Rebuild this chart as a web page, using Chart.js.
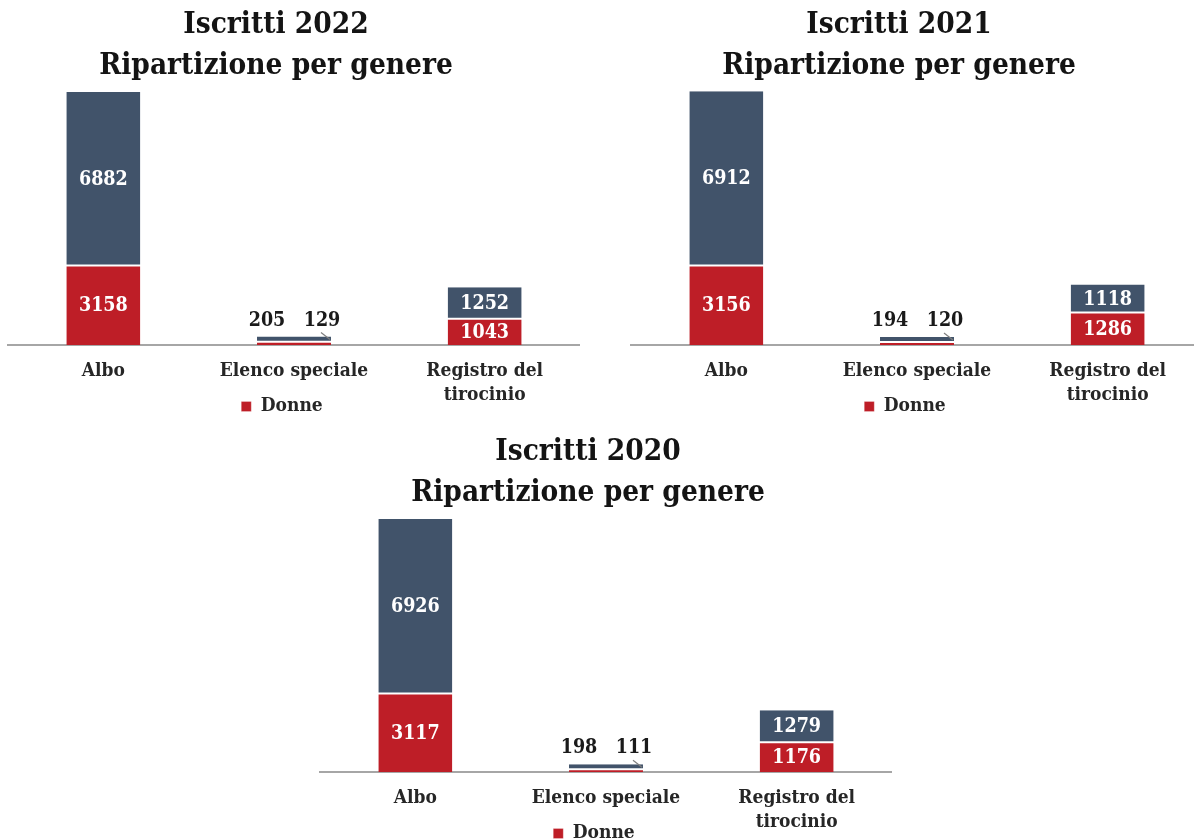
<!DOCTYPE html>
<html lang="it">
<head>
<meta charset="utf-8">
<title>Iscritti - Ripartizione per genere</title>
<script src="https://cdn.jsdelivr.net/npm/chart.js@4.4.1/dist/chart.umd.min.js"></script>
<style>
  html, body { margin: 0; padding: 0; background: #fff; }
  body { width: 1194px; height: 840px; overflow: hidden; position: relative; }
  .box { position: absolute; width: 608px; height: 444px; }
</style>
</head>
<body>
<div class="box" style="left:-28px; top:0px;"><canvas id="chart2022" width="608" height="444"></canvas></div>
<div class="box" style="left:595px; top:0px;"><canvas id="chart2021" width="608" height="444"></canvas></div>
<div class="box" style="left:284px; top:427px;"><canvas id="chart2020" width="608" height="444"></canvas></div>
<script>
// Iscritti per genere, tre anni
const categories = ['Albo', 'Elenco speciale', ['Registro del', 'tirocinio']];
const donne2022 = [3158, 129, 1043];
const uomini2022 = [6882, 205, 1252];
const donne2021 = [3156, 120, 1286];
const uomini2021 = [6912, 194, 1118];
const donne2020 = [3117, 111, 1176];
const uomini2020 = [6926, 198, 1279];

const RED = '#BE1E27';
const SLATE = '#41536A';
const FONT = "'DejaVu Serif Condensed', 'DejaVu Serif', serif";

// etichette dei valori: dentro la barra, oppure sopra se il segmento e' troppo basso
const valueLabels = {
    id: 'valueLabels',
    afterDatasetsDraw(chart) {
        const ctx = chart.ctx;
        const donne = chart.getDatasetMeta(0).data;
        const uomini = chart.getDatasetMeta(1).data;
        ctx.save();
        ctx.font = 'bold 19.5px ' + FONT;
        ctx.textAlign = 'center';
        ctx.textBaseline = 'middle';
        donne.forEach((barD, i) => {
            const barU = uomini[i];
            const vD = chart.data.datasets[0].data[i];
            const vU = chart.data.datasets[1].data[i];
            const hD = barD.base - barD.y;
            const hU = barU.base - barU.y;
            if (hD > 20 && hU > 20) {
                ctx.fillStyle = '#ffffff';
                ctx.fillText(vD, barD.x, (barD.y + barD.base) / 2 + 1);
                ctx.fillText(vU, barU.x, (barU.y + barU.base) / 2 + 1);
            } else {
                const top = Math.min(barD.y, barU.y);
                const ly = top - 16;
                ctx.fillStyle = '#1a1a1a';
                ctx.fillText(vU, barU.x - 27, ly);
                ctx.fillText(vD, barD.x + 28, ly);
                // linea guida verso il bordo della barra
                ctx.strokeStyle = '#7f7f7f';
                ctx.lineWidth = 1.2;
                ctx.beginPath();
                ctx.moveTo(barD.x + 27, ly + 12);
                ctx.lineTo(barD.x + barD.width / 2 - 1, top + 3);
                ctx.stroke();
            }
        });
        ctx.restore();
    }
};

// la legenda sale un po' e si affianca alla seconda riga delle etichette
const legendShift = {
    id: 'legendShift',
    afterLayout(chart) {
        const l = chart.legend;
        if (l) {
            l.top -= 18;
            l.bottom -= 18;
            l.left += 6;
            l.right += 6;
        }
    }
};

function makeChart(id, year, donne, uomini) {
    const ctx = document.getElementById(id).getContext('2d');
    return new Chart(ctx, {
        type: 'bar',
        data: {
            labels: categories,
            datasets: [{
                label: 'Donne',
                data: donne,
                backgroundColor: RED,
                borderColor: '#ffffff',
                borderWidth: { top: 1, right: 0, bottom: 0, left: 0 },
                categoryPercentage: 1,
                barPercentage: 0.388
            }, {
                label: 'Uomini',
                data: uomini,
                backgroundColor: SLATE,
                borderColor: '#ffffff',
                borderWidth: { top: 0, right: 0, bottom: 1, left: 0 },
                borderSkipped: false,
                categoryPercentage: 1,
                barPercentage: 0.388
            }]
        },
        options: {
            responsive: false,
            devicePixelRatio: 1,
            animation: false,
            layout: { padding: 0 },
            plugins: {
                title: {
                    display: true,
                    text: ['Iscritti ' + year, 'Ripartizione per genere'],
                    color: '#141414',
                    font: { family: FONT, size: 29.5, weight: 'bold', lineHeight: 1.39 },
                    padding: { top: 5, bottom: 0 }
                },
                legend: {
                    position: 'bottom',
                    labels: {
                        filter: item => item.datasetIndex === 0,
                        boxWidth: 10,
                        boxHeight: 10,
                        padding: 6,
                        color: '#262626',
                        font: { family: FONT, size: 19, weight: 'bold' }
                    }
                },
                tooltip: { enabled: false }
            },
            scales: {
                x: {
                    stacked: true,
                    grid: { display: false, drawTicks: false },
                    border: { display: true, color: '#a6a6a6', width: 2 },
                    ticks: {
                        color: '#262626',
                        padding: 14,
                        maxRotation: 0,
                        autoSkip: false,
                        font: { family: FONT, size: 19, weight: 'bold', lineHeight: 1.26 }
                    },
                    afterFit(scale) { scale.height = 64; }
                },
                y: {
                    stacked: true,
                    min: 0,
                    max: 10240,
                    grid: { display: false },
                    border: { display: false },
                    ticks: { display: false },
                    afterFit(scale) { scale.width = 36; }
                }
            }
        },
        plugins: [valueLabels, legendShift]
    });
}

makeChart('chart2022', '2022', donne2022, uomini2022);
makeChart('chart2021', '2021', donne2021, uomini2021);
makeChart('chart2020', '2020', donne2020, uomini2020);
</script>
</body>
</html>
